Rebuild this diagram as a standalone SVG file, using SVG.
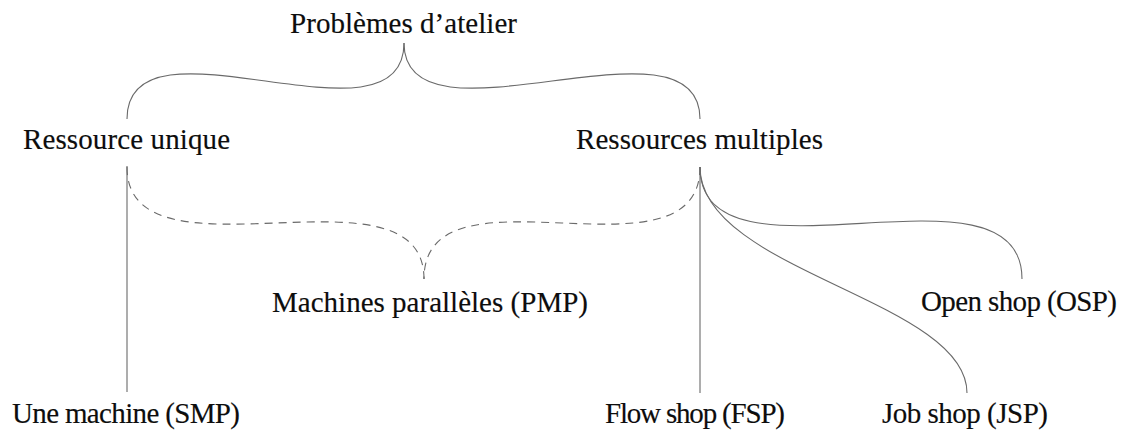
<svg xmlns="http://www.w3.org/2000/svg" width="1127" height="432" viewBox="0 0 1127 432">
  <style>
    .lbl { font-family: "Liberation Serif", "Times New Roman", serif; font-size: 29px; fill: #0d0d0d; stroke: #0d0d0d; stroke-width: 0.15; text-anchor: middle; }
    .edge { fill: none; stroke: #6a6a6a; stroke-width: 1.1; }
    .dash { stroke-dasharray: 8 6; }
  </style>
  <rect width="1127" height="432" fill="#fff"/>

  <!-- connectors -->
  <g id="connectors">
    <!-- brace joining the two resource families -->
    <path class="edge" d="M127,119 C127,5 404,157 404,43"/>
    <path class="edge" d="M700,119 C700,5 404,157 404,43"/>
    <!-- dashed brace: parallel machines -->
    <path class="edge dash" d="M127,167 C127,290 424,156 424,279"/>
    <path class="edge dash" d="M700,167 C700,290 424,156 424,279"/>
    <!-- single resource -->
    <path class="edge" d="M127,166 L127,392"/>
    <!-- multiple resources -->
    <path class="edge" d="M700,167 L700,393"/>
    <path class="edge" d="M700,167 C700,271 967,300 967,393"/>
    <path class="edge" d="M700,167 C700,298 1022,149 1022,279"/>
  </g>

  <g id="n-atelier"><text class="lbl" x="403.5" y="33" textLength="227">Problèmes d’atelier</text></g>
  <g id="n-unique"><text class="lbl" x="126.5" y="149" textLength="207">Ressource unique</text></g>
  <g id="n-multiples"><text class="lbl" x="699.5" y="149" textLength="247">Ressources multiples</text></g>
  <g id="n-pmp"><text class="lbl" x="430" y="312" textLength="316">Machines parallèles (PMP)</text></g>
  <g id="n-smp"><text class="lbl" x="126" y="423" textLength="228">Une machine (SMP)</text></g>
  <g id="n-fsp"><text class="lbl" x="695" y="423" textLength="180">Flow shop (FSP)</text></g>
  <g id="n-jsp"><text class="lbl" x="965" y="423" textLength="166">Job shop (JSP)</text></g>
  <g id="n-osp"><text class="lbl" x="1019" y="311" textLength="196">Open shop (OSP)</text></g>
</svg>
